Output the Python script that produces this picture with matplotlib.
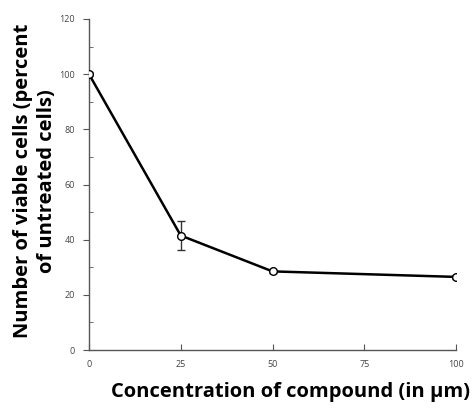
import matplotlib.pyplot as plt
import numpy as np

# Data
concentration = [0, 25, 50, 100]
viable = [100, 41.5, 28.5, 26.5]
errors = [0.8, 5.2, 0.6, 0.8]
x_ticks = [0, 25, 50, 75, 100]
y_ticks = [0, 20, 40, 60, 80, 100, 120]

plt.rcParams['font.family'] = ['Open Sans', 'DejaVu Sans']

fig = plt.figure(figsize=(4.75, 4.08), dpi=100)
ax = fig.add_axes([89 / 475, (408 - 350) / 408, (456 - 89) / 475, (350 - 19) / 408])

ax.errorbar(concentration, viable, yerr=errors, color='black', lw=1.8,
            marker='o', ms=5.5, mfc='white', mec='black', mew=1.0,
            ecolor='#333333', elinewidth=1.0, capsize=3, capthick=1.0, zorder=3)

ax.set_xlim(0, 100)
ax.set_ylim(0, 120)
ax.set_xticks(x_ticks)
ax.set_yticks(y_ticks)
ax.set_yticks(np.arange(10, 120, 20), minor=True)

for s in ['top', 'right']:
    ax.spines[s].set_visible(False)
for s in ['left', 'bottom']:
    ax.spines[s].set_color('#555555')
    ax.spines[s].set_linewidth(1.0)

ax.tick_params(axis='y', which='major', direction='out', length=4, color='#555555',
               labelsize=6.5, labelcolor='#444444', pad=6)
ax.tick_params(axis='y', which='minor', direction='in', length=3, color='#555555')
ax.tick_params(axis='x', which='major', direction='in', length=4, color='#555555',
               labelsize=6.5, labelcolor='#444444', pad=7)

fig.text(0.612, 0.039, 'Concentration of compound (in \u03bcm)', ha='center', va='center',
         fontsize=14.5, fontweight='bold')
fig.text(0.074, 0.557, 'Number of viable cells (percent\nof untreated cells)', ha='center',
         va='center', rotation=90, fontsize=14.5, fontweight='bold', linespacing=1.25)

fig.savefig('out.png', dpi=100)
